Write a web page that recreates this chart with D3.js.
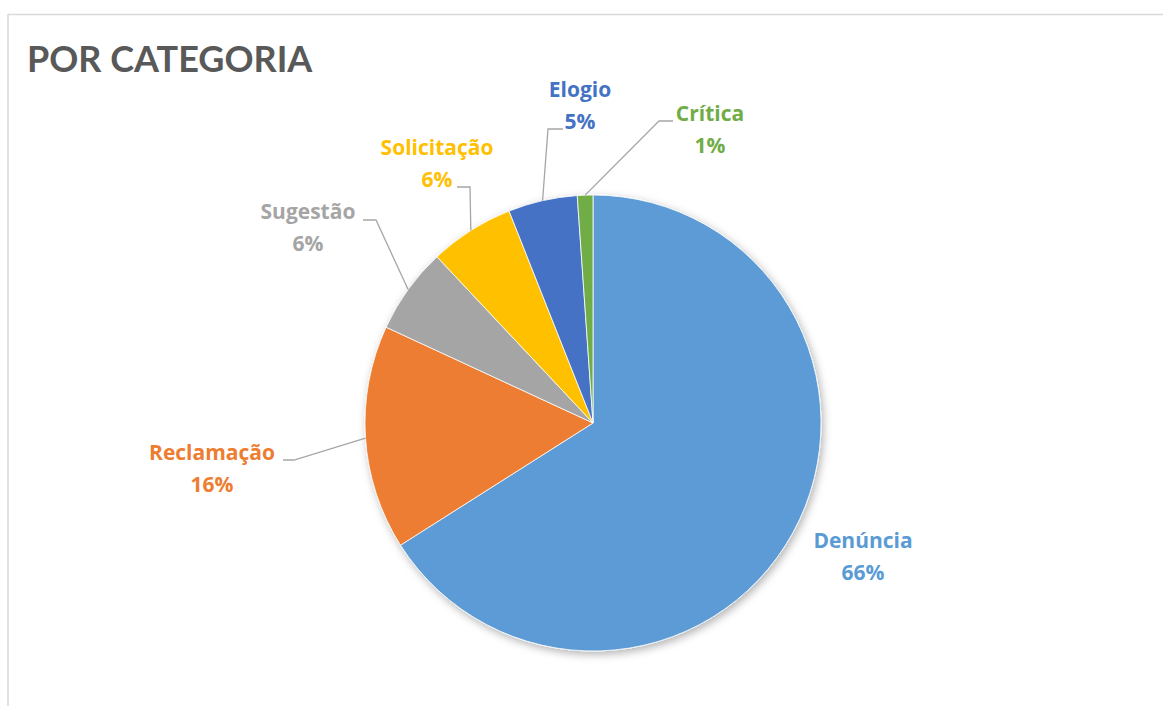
<!DOCTYPE html>
<html>
<head>
<meta charset="utf-8">
<script src="https://cdn.jsdelivr.net/npm/d3@7"></script>
<style>
  html, body { margin: 0; padding: 0; background: #ffffff; }
  svg { display: block; }
  text { font-weight: 700; }
</style>
</head>
<body>
<svg id="chart" width="1163" height="706"></svg>
<script>
// ---- data ----
const categories = ["Denúncia", "Reclamação", "Sugestão", "Solicitação", "Elogio", "Crítica"];
const values = [66.0, 15.9, 6.1, 6.0, 4.9, 1.1];
const percentLabels = ["66%", "16%", "6%", "6%", "5%", "1%"];
const colors = ["#5B9BD5", "#ED7D31", "#A5A5A5", "#FFC000", "#4472C4", "#70AD47"];

// ---- label layout (label centre x, name baseline y, leader elbow, leader end) ----
const labelLayout = [
  { x: 863, y: 548, leader: null },
  { x: 212, y: 460, leader: { ex: 294, ey: 460, hx: 283 } },
  { x: 308, y: 219, leader: { ex: 376, ey: 220, hx: 363 } },
  { x: 437, y: 155, leader: { ex: 470, ey: 187, hx: 457 } },
  { x: 580, y: 97,  leader: { ex: 548, ey: 129, hx: 563 } },
  { x: 710, y: 121, leader: { ex: 659, ey: 121, hx: 673 } }
];

const W = 1163, H = 706;
const cx = 593, cy = 423, R = 228;

const svg = d3.select("#chart");

// frame (top + left border of chart area)
svg.append("line").attr("x1", 8).attr("y1", 14.5).attr("x2", W).attr("y2", 14.5)
  .attr("stroke", "#d9d9d9").attr("stroke-width", 1.5);
svg.append("line").attr("x1", 8).attr("y1", 14).attr("x2", 8).attr("y2", H)
  .attr("stroke", "#d9d9d9").attr("stroke-width", 1.5);

// title
svg.append("text").attr("x", 27).attr("y", 72)
  .attr("fill", "#595959").attr("font-size", 36)
  .attr("font-family", "Lato, 'Open Sans', sans-serif")
  .text("POR CATEGORIA");

// shadow filter
const defs = svg.append("defs");
const f = defs.append("filter").attr("id", "shadow")
  .attr("x", "-20%").attr("y", "-20%").attr("width", "140%").attr("height", "140%");
f.append("feDropShadow").attr("dx", 2).attr("dy", 3).attr("stdDeviation", 4)
  .attr("flood-color", "#000").attr("flood-opacity", 0.3);

const data = categories.map((c, i) => ({ cat: c, value: values[i], pct: percentLabels[i], color: colors[i], layout: labelLayout[i] }));

const pie = d3.pie().value(d => d.value).sort(null);
const arcs = pie(data);
const arc = d3.arc().innerRadius(0).outerRadius(R);

const g = svg.append("g").attr("transform", `translate(${cx},${cy})`);
g.append("g").attr("filter", "url(#shadow)")
  .selectAll("path").data(arcs).join("path")
  .attr("d", arc)
  .attr("fill", d => d.data.color)
  .attr("stroke", "#ffffff").attr("stroke-width", 0.8);

// leader lines
arcs.forEach(a => {
  const L = a.data.layout.leader;
  if (!L) return;
  const mid = (a.startAngle + a.endAngle) / 2;
  const sx = cx + R * Math.sin(mid), sy = cy - R * Math.cos(mid);
  svg.append("polyline")
    .attr("points", `${sx},${sy} ${L.ex},${L.ey} ${L.hx},${L.ey}`)
    .attr("fill", "none").attr("stroke", "#a6a6a6").attr("stroke-width", 1.3);
});

// labels
arcs.forEach(a => {
  const d = a.data, L = d.layout;
  const t = svg.append("text").attr("text-anchor", "middle").attr("fill", d.color)
    .attr("font-size", 21).attr("font-family", "'Open Sans', Lato, sans-serif");
  t.append("tspan").attr("x", L.x).attr("y", L.y).text(d.cat);
  t.append("tspan").attr("x", L.x).attr("y", L.y + 32).text(d.pct);
});
</script>
</body>
</html>
